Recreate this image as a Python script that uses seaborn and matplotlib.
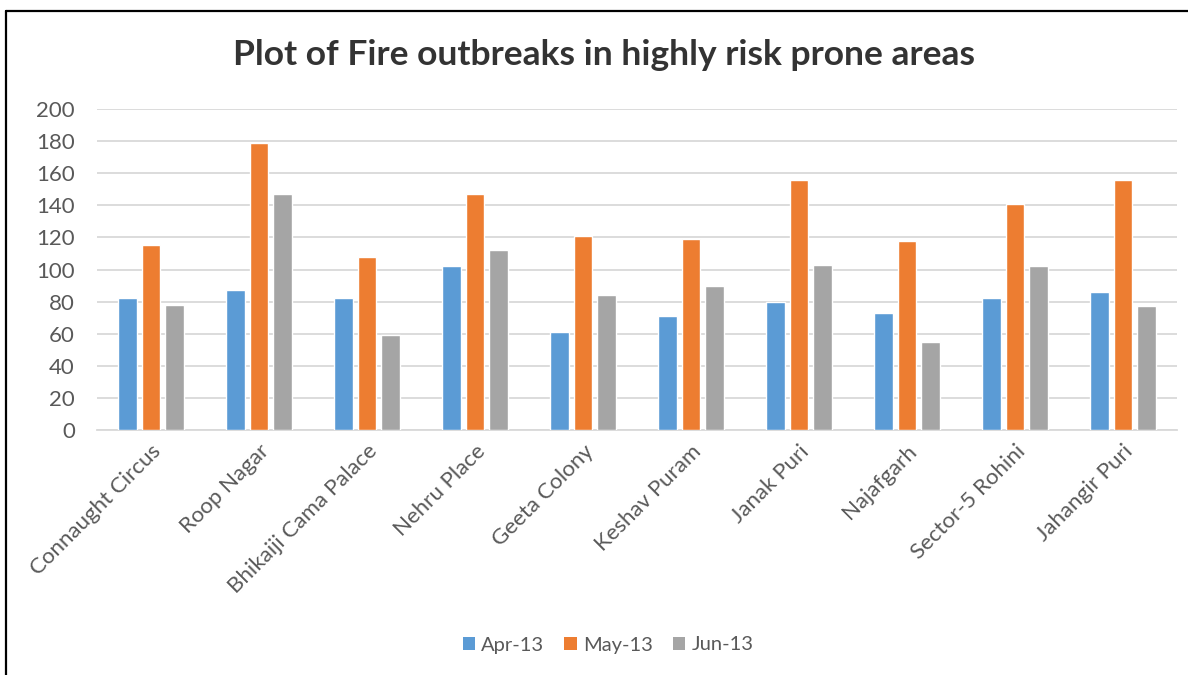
import matplotlib
matplotlib.use("Agg")
import matplotlib.pyplot as plt
from matplotlib.lines import Line2D
from matplotlib.patches import Patch
import seaborn as sns
import pandas as pd

areas = ["Connaught Circus", "Roop Nagar", "Bhikaiji Cama Palace", "Nehru Place",
         "Geeta Colony", "Keshav Puram", "Janak Puri", "Najafgarh",
         "Sector-5 Rohini", "Jahangir Puri"]
months = ["Apr-13", "May-13", "Jun-13"]
apr = [82, 87, 82, 102, 61, 71, 80, 73, 82, 86]
may = [115, 179, 108, 147, 121, 119, 156, 118, 141, 156]
jun = [78, 147, 59, 112, 84, 90, 103, 55, 102, 77]
colors = ["#5B9BD5", "#ED7D31", "#A5A5A5"]
y_ticks = list(range(0, 201, 20))

df = pd.DataFrame({
    "Area": areas * 3,
    "Month": [m for m in months for _ in areas],
    "Outbreaks": apr + may + jun,
})

sns.set_theme(style="white")
plt.rcParams["font.family"] = ["Lato", "DejaVu Sans"]
text_color = "#595959"

fig = plt.figure(figsize=(11.88, 6.75), dpi=100)
ax = fig.add_axes([97 / 1188, 1 - 430 / 675, 1080 / 1188, 321 / 675])

sns.barplot(data=df, x="Area", y="Outbreaks", hue="Month", order=areas,
            hue_order=months, palette=colors, width=0.66, gap=0.21,
            saturation=1, ax=ax, legend=False, zorder=3)

ax.set_ylim(0, 200)
ax.set_xlim(-0.5, len(areas) - 0.5)
ax.set_yticks(y_ticks)
ax.yaxis.grid(True, color="#D9D9D9", linewidth=1.3, zorder=0)
ax.set_axisbelow(True)
for s in ["top", "right", "left"]:
    ax.spines[s].set_visible(False)
ax.spines["bottom"].set_color("#D9D9D9")
ax.spines["bottom"].set_linewidth(1.3)
ax.set_xlabel("")
ax.set_ylabel("")
ax.tick_params(axis="y", length=0, pad=16, labelsize=16, labelcolor=text_color)
ax.tick_params(axis="x", length=0, pad=8, labelsize=16, labelcolor=text_color)
for lbl in ax.get_yticklabels():
    lbl.set_clip_on(False)
plt.setp(ax.get_xticklabels(), rotation=45, ha="right", va="top",
         rotation_mode="anchor")

fig.text(0.508, 1 - 55 / 675, "Plot of Fire outbreaks in highly risk prone areas",
         ha="center", va="center", fontsize=25.5, fontweight="bold", color="#333333")

handles = [Patch(facecolor=c, edgecolor="none") for c in colors]
fig.legend(handles, months, loc="center", bbox_to_anchor=(608 / 1188, 1 - 645 / 675),
           ncol=3, frameon=False, fontsize=14.5, labelcolor=text_color,
           handlelength=0.62, handleheight=0.62, handletextpad=0.3,
           columnspacing=1.0, borderpad=0, borderaxespad=0)

# chart frame
fig.add_artist(Line2D([6 / 1188, 1.0], [1 - 11 / 675] * 2, color="black",
                      linewidth=1.6, transform=fig.transFigure))
fig.add_artist(Line2D([6 / 1188] * 2, [0.0, 1 - 11 / 675], color="black",
                      linewidth=1.6, transform=fig.transFigure))

fig.savefig("out.png", dpi=100, facecolor="white")
